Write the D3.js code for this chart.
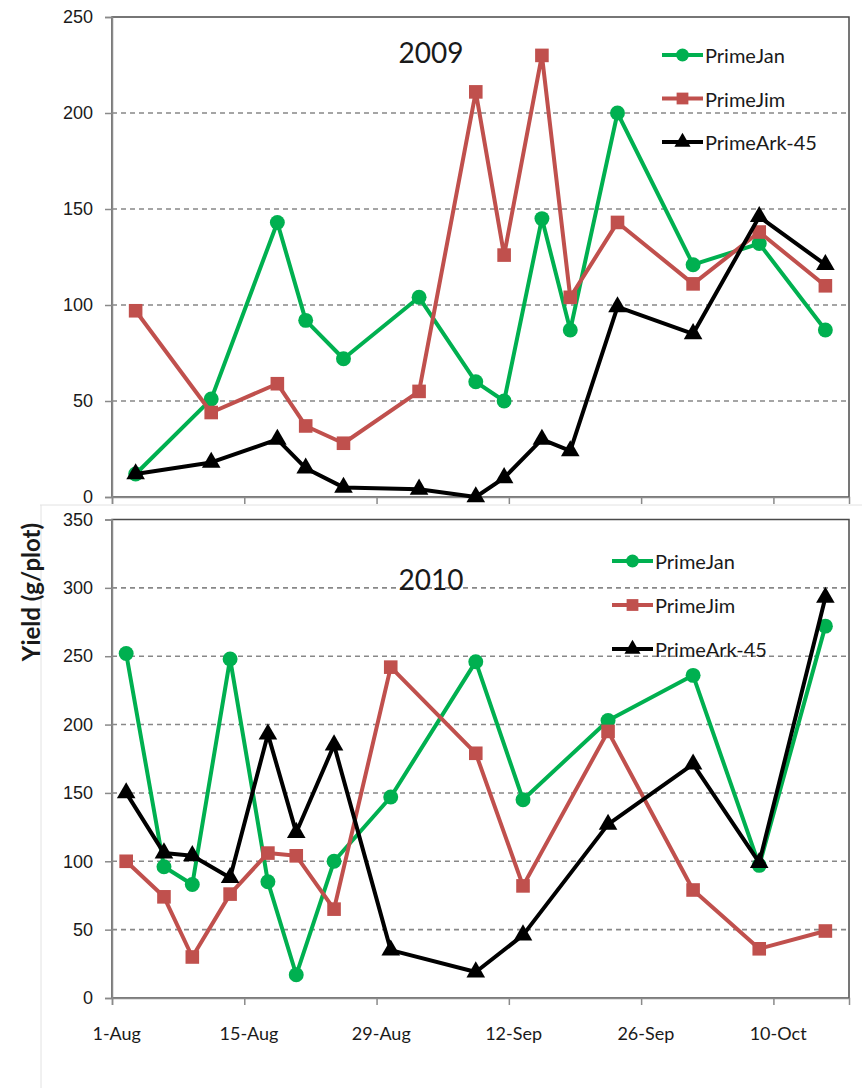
<!DOCTYPE html>
<html>
    <head>
        <title>Primocane blackberry yield</title>
        <script src="https://d3js.org/d3.v7.min.js"></script>
        <style>
            body {
                margin: 0;
                background: white;
            }
            svg {
                display: block;
                font-family: Lato, 'Open Sans', sans-serif;
            }
        </style>
    </head>
    <body>
        <svg width="862" height="1088"></svg>
    </body>
    <script>

        // ---- data ----
        let seriesNames = ['PrimeJan', 'PrimeJim', 'PrimeArk-45'];
        let tickLabels = ['1-Aug', '15-Aug', '29-Aug', '12-Sep', '26-Sep', '10-Oct'];

        // harvest dates
        let dates2009 = ['3-Aug', '11-Aug', '18-Aug', '21-Aug', '25-Aug', '2-Sep', '8-Sep',
                         '11-Sep', '15-Sep', '18-Sep', '23-Sep', '1-Oct', '8-Oct', '15-Oct'];
        let jan2009 = [12, 51, 143, 92, 72, 104, 60, 50, 145, 87, 200, 121, 132, 87];
        let jim2009 = [97, 44, 59, 37, 28, 55, 211, 126, 230, 104, 143, 111, 138, 110];
        let ark2009 = [12, 18, 30, 15, 5, 4, 0, 10, 30, 24, 99, 85, 146, 121];

        let dates2010 = ['2-Aug', '6-Aug', '9-Aug', '13-Aug', '17-Aug', '20-Aug', '24-Aug',
                         '30-Aug', '8-Sep', '13-Sep', '22-Sep', '1-Oct', '8-Oct', '15-Oct'];
        let jan2010 = [252, 96, 83, 248, 85, 17, 100, 147, 246, 145, 203, 236, 97, 272];
        let jim2010 = [100, 74, 30, 76, 106, 104, 65, 242, 179, 82, 195, 79, 36, 49];
        let ark2010 = [150, 106, 104, 88, 193, 121, 185, 35, 19, 46, 127, 171, 99, 293];

        let colors = ['#00B050', '#C0504D', '#000000'];
        let symbols = [d3.symbolCircle, d3.symbolSquare, d3.symbolTriangle];
        let symbolSizes = [175, 185, 150];

        // ---- layout ----
        let svg = d3.select('svg');
        let parseDay = d3.utcParse('%d-%b-%Y');
        let day = s => parseDay(s + '-2010');

        // Excel date axis: each day is a slot, points sit in the middle of it
        let xScale = d3.scaleUtc()
                        .domain([day('1-Aug'), day('18-Oct')])
                        .range([112, 849]);
        let mid = d => d3.utcHour.offset(d, 12);

        // light frame lines left over from the pasted figure
        svg.append('line')
            .attr('x1', 40).attr('x2', 862).attr('y1', 505).attr('y2', 505)
            .style('stroke', '#e2e2e2');
        svg.append('line')
            .attr('x1', 41).attr('x2', 41).attr('y1', 505).attr('y2', 1088)
            .style('stroke', '#e2e2e2');

        function drawPanel(cfg) {
            let yScale = d3.scaleLinear()
                            .domain([0, cfg.yMax])
                            .range([cfg.bottom, cfg.top]);
            let g = svg.append('g');
            let x0 = xScale.range()[0], x1 = xScale.range()[1];

            // dashed gridlines
            g.selectAll('.grid')
                .data(d3.range(50, cfg.yMax, 50))
                .join('line')
                .attr('x1', x0).attr('x2', x1)
                .attr('y1', d => yScale(d)).attr('y2', d => yScale(d))
                .style('stroke', '#888')
                .style('stroke-width', 1.6)
                .style('stroke-dasharray', '5,4');

            // plot-area border
            g.append('rect')
                .attr('x', x0).attr('y', cfg.top)
                .attr('width', x1 - x0).attr('height', cfg.bottom - cfg.top)
                .style('fill', 'none')
                .style('stroke', '#4a4a4a')
                .style('stroke-width', 1.5);

            // y axis
            let yAxis = g.append('g')
                .attr('transform', `translate(${x0},0)`)
                .call(d3.axisLeft(yScale).tickValues(d3.range(0, cfg.yMax + 1, 50))
                        .tickSize(7).tickPadding(12));
            yAxis.select('.domain').style('stroke', '#8a8a8a').style('stroke-width', 1.5);
            yAxis.selectAll('.tick line').style('stroke', '#8a8a8a').style('stroke-width', 1.5);
            yAxis.selectAll('text')
                .style('font-size', '18px')
                .style('fill', '#1a1a1a');

            // x axis, ticks every 14 days
            let tickDates = tickLabels.map(day);
            let xAxis = g.append('g')
                .attr('transform', `translate(0,${cfg.bottom})`)
                .call(d3.axisBottom(xScale).tickValues(tickDates).tickSize(7)
                        .tickFormat(''));
            xAxis.select('.domain').style('stroke', '#8a8a8a').style('stroke-width', 1.5);
            xAxis.selectAll('.tick line').style('stroke', '#8a8a8a').style('stroke-width', 1.5);

            if (cfg.labels) {
                g.selectAll('.xlab')
                    .data(tickDates)
                    .join('text')
                    .attr('x', d => xScale(mid(d)))
                    .attr('y', cfg.bottom + 42)
                    .attr('text-anchor', 'middle')
                    .style('font-size', '18px')
                    .style('fill', '#1a1a1a')
                    .text((d, i) => tickLabels[i]);
            }

            // year title
            g.append('text')
                .attr('x', 431)
                .attr('y', cfg.titleY)
                .attr('text-anchor', 'middle')
                .attr('dominant-baseline', 'central')
                .style('font-size', '28px')
                .style('fill', '#1a1a1a')
                .text(cfg.title);

            // series lines and markers
            let line = d3.line()
                            .x(d => xScale(mid(d.date)))
                            .y(d => yScale(d.value));
            cfg.series.forEach((values, s) => {
                let pts = values.map((v, i) => ({ date: day(cfg.dates[i]), value: v }));
                g.append('path')
                    .datum(pts)
                    .attr('d', line)
                    .style('fill', 'none')
                    .style('stroke', colors[s])
                    .style('stroke-width', 4)
                    .style('stroke-linejoin', 'round');
                g.selectAll('.mark-' + s)
                    .data(pts)
                    .join('path')
                    .attr('transform', d => `translate(${xScale(mid(d.date))},${yScale(d.value)})`)
                    .attr('d', d3.symbol().type(symbols[s]).size(symbolSizes[s]))
                    .style('fill', colors[s]);
            });

            // legend
            let lg = g.append('g')
                        .attr('transform', `translate(${cfg.legendX},${cfg.legendY})`);
            seriesNames.forEach((name, s) => {
                let y = s * cfg.legendStep;
                lg.append('line')
                    .attr('x1', 0).attr('x2', 41).attr('y1', y).attr('y2', y)
                    .style('stroke', colors[s])
                    .style('stroke-width', 4);
                lg.append('path')
                    .attr('transform', `translate(20.5,${y})`)
                    .attr('d', d3.symbol().type(symbols[s]).size(symbolSizes[s] * 0.75))
                    .style('fill', colors[s]);
                lg.append('text')
                    .attr('x', 43)
                    .attr('y', y)
                    .attr('dominant-baseline', 'central')
                    .style('font-size', '20px')
                    .style('fill', '#1a1a1a')
                    .text(name);
            });
        }

        drawPanel({ top: 17, bottom: 497, yMax: 250, dates: dates2009,
                    series: [jan2009, jim2009, ark2009], title: '2009', titleY: 52,
                    labels: false, legendX: 662, legendY: 55, legendStep: 43.5 });

        drawPanel({ top: 519.5, bottom: 998, yMax: 350, dates: dates2010,
                    series: [jan2010, jim2010, ark2010], title: '2010', titleY: 579,
                    labels: true, legendX: 612, legendY: 561, legendStep: 44 });

        // shared y-axis title
        svg.append('text')
            .attr('transform', 'translate(30,592) rotate(-90)')
            .attr('text-anchor', 'middle')
            .attr('dominant-baseline', 'central')
            .style('font-size', '24px')
            .style('font-weight', 'bold')
            .style('fill', '#1a1a1a')
            .text('Yield (g/plot)');

    </script>
</html>
